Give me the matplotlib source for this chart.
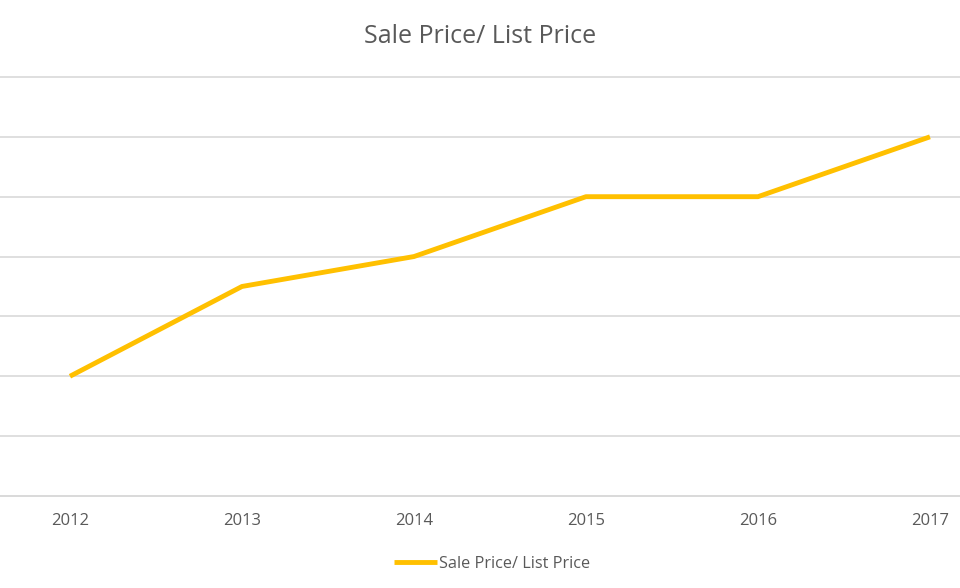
import matplotlib
matplotlib.use("Agg")
import matplotlib.pyplot as plt

# data
years = ["2012", "2013", "2014", "2015", "2016", "2017"]
ratio = [0.94, 0.955, 0.96, 0.97, 0.97, 0.98]
y_ticks = [0.92, 0.93, 0.94, 0.95, 0.96, 0.97, 0.98, 0.99]

plt.rcParams['font.family'] = ['Open Sans', 'DejaVu Sans']
text_col = '#595959'

fig = plt.figure(figsize=(9.6, 5.88), dpi=100)
# axes runs past the left/right edges, like the cropped source
ax = fig.add_axes([-0.0167, 0.1565, 1.075, 0.7126])

x = range(len(years))
ax.plot(x, ratio, color='#FFC000', linewidth=3.5, solid_capstyle='butt',
        label='Sale Price/ List Price')

ax.set_xlim(-0.5, len(years) - 0.5)
ax.set_ylim(y_ticks[0], y_ticks[-1])
ax.set_yticks(y_ticks)
ax.set_yticklabels([])
ax.set_xticks(list(x))
ax.set_xticklabels(years)
ax.grid(axis='y', color='#d9d9d9', linewidth=1.2)
for gl in ax.get_ygridlines():
    gl.set_clip_on(False)
ax.set_axisbelow(True)
ax.tick_params(axis='both', length=0)
ax.tick_params(axis='x', labelsize=12, labelcolor=text_col, pad=12)
for s in ['top', 'right', 'left']:
    ax.spines[s].set_visible(False)
ax.spines['bottom'].set_color('#d9d9d9')
ax.spines['bottom'].set_linewidth(1.2)

fig.text(0.5, 0.938, 'Sale Price/ List Price', ha='center', va='center',
         fontsize=18, color=text_col)

fig.legend(loc='center', bbox_to_anchor=(0.5125, 0.041), frameon=False,
           fontsize=11.7, labelcolor=text_col, handlelength=2.65,
           handletextpad=0.1)

fig.savefig('out.png', dpi=100, facecolor='white')
